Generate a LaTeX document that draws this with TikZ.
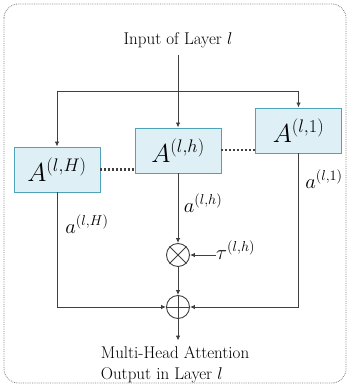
\documentclass[tikz,border=0pt]{standalone}
\usepackage{fix-cm}
\usetikzlibrary{arrows.meta, positioning, shapes.geometric}

\definecolor{headfill}{HTML}{DEEFF5}
\definecolor{headline}{HTML}{4FA3B8}
\definecolor{wire}{HTML}{404040}

\begin{document}
\begin{tikzpicture}[
    x=1pt, y=-1pt,
    head/.style={
        rectangle,
        draw=headline,
        fill=headfill,
        line width=0.9pt,
        minimum width=86pt,
        minimum height=45pt,
        inner sep=0pt,
        font=\fontsize{26}{28}\selectfont
    },
    op/.style={
        circle,
        draw=wire,
        line width=0.9pt,
        minimum size=23pt,
        inner sep=0pt
    },
    txt/.style={font=\fontsize{17}{21}\selectfont, inner sep=0pt},
    lbl/.style={font=\fontsize{20.5}{23}\selectfont, inner sep=0pt},
    wireline/.style={draw=wire, line width=0.9pt},
    dots/.style={draw=wire, line width=2pt, dash pattern=on 2pt off 2pt},
    >={Latex[length=5pt, width=4.5pt]}
]
\useasboundingbox (0,0) rectangle (350,387);

% frame
\draw[gray, densely dotted, line width=0.8pt, rounded corners=14pt] (4,4) rectangle (346,383);

% heads
\node[txt] (input) at (178,40) {Input of Layer $l$};
\node[head] (headH) at (57,169.5) {$A^{(l,H)}$};
\node[head] (headh) at (178,150.5) {$A^{(l,h)}$};
\node[head] (head1) at (298.5,130.5) {$A^{(l,1)}$};
\coordinate (split) at (178,91);
\coordinate (inbot) at ([yshift=-7pt]input.south);

\draw[wireline, ->] (inbot) -- (headh.north);
\draw[wireline, ->] (split) -| (headH.north);
\draw[wireline, ->] (split) -| (head1.north);

\draw[dots] (headH.east) -- (headH.east -| headh.west);
\draw[dots] (headh.east) -- (headh.east -| head1.west);

% combine
\node[op] (mult) at (178,255) {};
\node[op] (add) at (178,307) {};
\draw[wireline] (mult.north west) -- (mult.south east) (mult.north east) -- (mult.south west);
\draw[wireline] (add.north) -- (add.south) (add.west) -- (add.east);
\node[lbl, anchor=west] (tau) at (216,250) {$\tau^{(l,h)}$};

\draw[wireline, ->] (headh.south) -- (mult.north);
\draw[wireline, ->] (tau.west |- mult.east) -- (mult.east);
\draw[wireline, ->] (mult.south) -- (add.north);
\draw[wireline, ->] (headH.south) |- (add.west);
\draw[wireline, ->] (head1.south) |- (add.east);

\node[lbl] (aH) at (87,224) {$a^{(l,H)}$};
\node[lbl] (ah) at (203,203) {$a^{(l,h)}$};
\node[lbl] (a1) at (324,179) {$a^{(l,1)}$};

% output
\node[txt, align=left] (output) at (175,365) {Multi-Head Attention\\Output in Layer $l$};
\coordinate (outtop) at ([yshift=6pt]add.south |- output.north);
\draw[wireline, ->] (add.south) -- (outtop);
\end{tikzpicture}
\end{document}
